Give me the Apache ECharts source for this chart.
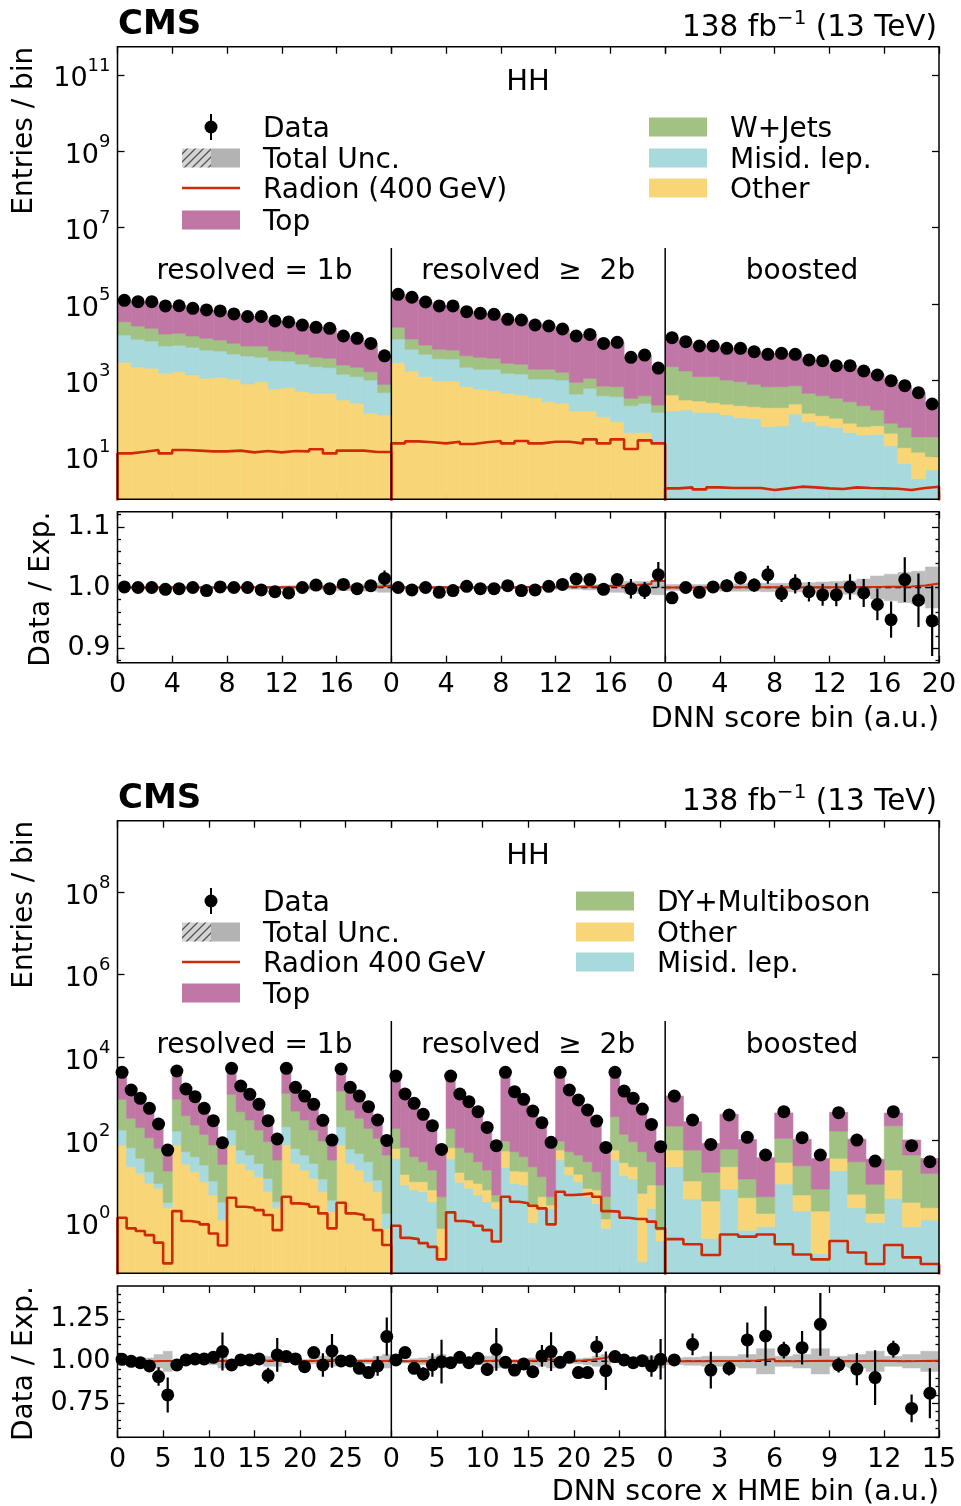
<!DOCTYPE html>
<html><head><meta charset="utf-8">
<script src="https://cdn.jsdelivr.net/npm/echarts@6/dist/echarts.min.js"></script>
<style>html,body{margin:0;padding:0;background:#fff}#c{width:961px;height:1506px}</style>
</head><body><div id="c"></div>
<script>
// ================= DATA =================
// ---- Panel A: DNN score bin (20 bins per region) ----
const dnn1bData   = [125000,115000,115000,89000,90000,77000,70000,66000,55000,47000,47000,36000,34000,28000,24500,23000,14500,12600,9300,4400];
const dnn1bOther  = [2965,2190,2065,1528,1688,1380,1130,1200,1062,802,923,593,643,505,457,457,305,250,137,124];
const dnn1bMisid  = [12435,9670,8675,6410,6570,5950,5110,4675,3840,3545,3090,2680,2570,2175,1825,1690,1130,1000,883,350];
const dnn1bWjets  = [19040,14680,12330,8430,8800,7190,6380,5535,4430,3595,3930,2710,2427,2120,1730,1627,1089,942,668,310];
const dnn1bTop    = [90600,88500,91900,72600,72900,62500,57400,54600,45700,39100,39100,30000,28400,23200,20500,19200,12000,10400,7600,3550];
const dnn1bRadion = [12.2,13.5,15.0,12.2,15.0,14.4,13.8,13.8,14.4,13.0,14.1,13.0,14.1,13.8,15.6,12.2,14.4,14.4,13.3,13.3];
const dnn1bRatio  = [1.001,1.0,1.0,0.997,0.998,1.0,0.995,1.001,1.0,1.0,0.996,0.993,0.991,1.0,1.004,0.998,1.005,0.998,1.003,1.015];
const dnn1bErr    = [0.001,0.001,0.001,0.001,0.001,0.001,0.001,0.002,0.002,0.002,0.002,0.002,0.002,0.003,0.003,0.003,0.003,0.004,0.005,0.013];
const dnn1bUnc    = [0.002,0.002,0.002,0.002,0.002,0.002,0.002,0.002,0.002,0.002,0.002,0.002,0.003,0.003,0.004,0.004,0.005,0.005,0.006,0.008];

const dnn2bData   = [179000,150000,113000,89000,89000,63000,57000,53600,39600,38100,28200,26500,22100,14500,16000,9300,9900,4000,4600,2100];
const dnn2bOther  = [2905,1758,1248,961,961,683,581,537,457,413,352,276,250,157,157,112,83,43,43,24];
const dnn2bMisid  = [9195,4732,3552,2739,2664,1507,1360,1404,1071,1053,732,808,770,282,461,284,290,174,207,121];
const dnn2bWjets  = [12380,5610,3630,2790,2615,2240,2069,1834,1262,1159,857,857,601,448,512,315,310,121,146,81];
const dnn2bTop    = [154500,137900,104600,82500,82800,58600,53000,49800,36800,35500,26300,24600,20500,13600,14900,8600,9200,3660,4200,1870];
const dnn2bRadion = [22.3,25.2,23.8,22.3,24.7,21.5,23.8,25.7,22.3,25.7,22.3,24.7,24.7,22.3,28.5,22.3,28.5,15.9,26.8,22.3];
const dnn2bRatio  = [1.0,0.996,1.0,0.992,0.995,1.002,0.998,0.998,1.003,0.995,0.996,1.002,1.005,1.014,1.013,0.997,1.013,0.998,0.995,1.021];
const dnn2bErr    = [0.001,0.001,0.001,0.001,0.002,0.002,0.002,0.002,0.002,0.002,0.002,0.003,0.003,0.003,0.003,0.004,0.007,0.016,0.014,0.021];
const dnn2bUnc    = [0.002,0.002,0.002,0.002,0.002,0.002,0.002,0.002,0.002,0.002,0.002,0.002,0.003,0.003,0.004,0.005,0.008,0.010,0.010,0.012];

const dnnBstData  = [13100,10300,7940,7940,6900,6900,5640,4800,5100,4800,3410,3275,2420,2420,1758,1380,980,724,475,240];
const dnnBstMisid = [157,167,145,142,124,107,101,61,64,131,83,64,59,43,37,39,19.4,6.7,2.7,4.5];
const dnnBstOther = [256,138,143,118,111,110,103,131,128,109,54,55,42,32,24,26,21.6,10.5,10.3,5.5];
const dnnBstWjets = [1867,1453,960,988,785,706,581,491,491,484,320,277,237,201,156,102,34,41,20,23];
const dnnBstTop   = [10820,8542,6692,6692,5880,5977,4855,4117,4417,4076,2953,2879,2082,2144,1541,1253,960,666,442,221];
const dnnBstRadion= [1.48,1.57,1.39,1.57,1.51,1.51,1.51,1.34,1.48,1.64,1.57,1.48,1.42,1.57,1.51,1.48,1.45,1.34,1.51,1.64];
const dnnBstRatio = [0.983,1.0,0.992,1.001,1.003,1.016,1.004,1.021,0.990,1.006,0.993,0.988,0.988,1.001,0.991,0.972,0.947,1.013,0.979,0.945];
const dnnBstErr   = [0.004,0.007,0.008,0.007,0.010,0.011,0.011,0.015,0.014,0.016,0.016,0.018,0.019,0.021,0.023,0.026,0.030,0.037,0.044,0.058];
const dnnBstUnc   = [0.005,0.005,0.005,0.005,0.006,0.006,0.006,0.007,0.007,0.007,0.008,0.009,0.010,0.011,0.014,0.019,0.022,0.025,0.027,0.034];

// ---- Panel B: DNN score x HME bin (30, 30, 15 bins) ----
const hme1bData   = [4340,1622,1019,584,244,57, 4670,1714,1117,584,294,86, 5420,2025,1273,729,294,106, 5420,1879,1159,729,299,100, 5224,1879,1159,640,305,98];
const hme1bOther  = [75.7,22.6,15.6,8.9,6.8,2.3, 75.7,25.8,17.1,9.8,4.7,1.16, 75.7,27.2,18.8,13.0,5.6,2.3, 75.7,27.2,18.8,11.8,5.6,1.85, 75.7,27.2,18.8,9.8,5.6,0.73];
const hme1bMisid  = [99,42.6,20.4,8.2,2.1,0.8, 89,26.4,22.4,15.0,5.5,2.0, 99,30.1,24.6,14.2,6.2,0.9, 134,35.6,24.6,15.4,5.8,1.65, 134,33.3,28.7,20.1,5.2,0.95];
const hme1bDY     = [789,269,163,97,54,14.7, 799,336,191,112,65.5,22.6, 1098,427,262,148,79.4,29.6, 1136,439,262,148,83.3,29.3, 1321,472,287,161,99,41.7];
const hme1bTop    = [3376,1288,820,487,205,53, 3811,1326,886,447,218,55, 4147,1541,968,554,230,69, 4074,1377,892,518,204,61, 3693,1347,876,495,204,42];
const hme1bRadion = [1.32,0.73,0.63,0.50,0.33,0.104, 1.91,1.10,1.02,0.91,0.55,0.28, 4.03,2.44,2.31,2.02,1.53,0.66, 4.26,2.94,2.78,2.44,1.68,0.73, 3.05,1.68,1.53,1.20,0.66,0.29];
const hme1bRatio  = [1.012,1.0,0.992,0.972,0.909,0.800, 0.978,1.008,1.014,1.014,1.024,1.058, 0.978,1.008,1.008,1.014,0.915,1.038, 1.028,1.014,0.968,1.052,0.978,1.062, 1.002,1.002,0.958,0.933,0.972,1.147];
const hme1bErr    = [0.010,0.010,0.015,0.030,0.055,0.104, 0.010,0.012,0.015,0.020,0.030,0.113, 0.010,0.012,0.015,0.020,0.047,0.100, 0.010,0.012,0.015,0.020,0.070,0.100, 0.010,0.012,0.015,0.020,0.058,0.113];
const hme1bUnc    = [0.008,0.010,0.012,0.020,0.040,0.060, 0.008,0.010,0.012,0.015,0.020,0.040, 0.008,0.010,0.012,0.015,0.030,0.030, 0.008,0.010,0.012,0.015,0.030,0.030, 0.008,0.010,0.012,0.015,0.030,0.040];

const hme2bData   = [3530,1297,771,418,222,59.4, 3530,1297,846,484,202,72.9, 4340,1477,964,502,262,87.8, 4340,1622,929,532,288,66.4, 4340,1531,1019,562,239,69];
const hme2bMisid  = [36,8.15,6.2,5.6,3.2,0.125, 34.7,9.5,6.8,4.7,3.2,2.2, 21.4,8.9,8.15,1.0,2.44,2.2, 32.8,14.2,9.8,4.26,2.94,0.73, 32.8,13.7,11.4,0.114,2.2,0.36];
const hme2bOther  = [26.8,6.6,3.6,4.2,3.0,0.6, 30.5,7.0,4.0,4.2,3.0,1.0, 32.8,8.9,9.0,1.44,1.8,0.47, 24.5,8.4,5.0,2.5,3.2,0.5, 24.5,14.6,11.2,5.0,5.95,0.3];
const hme2bDY     = [128,51.6,29.7,20.1,12.6,3.5, 126,48.7,39.4,21,12.6,1.5, 40.5,34.4,22.4,20.2,8.7,1.6, 37.4,29.6,28.6,23.1,10.9,3.0, 310,109,68.6,47.1,21.8,7.5];
const hme2bTop    = [3339,1167,765,422,203,55, 3339,1232,796,454,193,63, 4245,1506,924,512,241,78, 4245,1570,953,540,248,66, 3855,1394,928,510,216,61];
const hme2bRadion = [0.845,0.43,0.40,0.32,0.26,0.13, 1.78,1.10,1.02,0.845,0.66,0.35, 4.26,3.22,2.94,2.58,2.22,0.91, 5.62,4.67,4.84,5.12,4.26,1.91, 1.85,1.32,1.23,1.23,1.06,0.73];
const hme2bRatio  = [1.008,1.052,0.958,0.925,0.978,0.998, 0.992,1.024,0.992,1.018,0.952,1.071, 0.994,0.948,0.984,0.938,1.032,1.058, 0.994,1.024,0.933,0.933,1.087,0.944, 1.028,1.008,0.992,1.004,0.972,1.012];
const hme2bErr    = [0.010,0.012,0.015,0.040,0.070,0.130, 0.010,0.020,0.015,0.025,0.040,0.127, 0.010,0.012,0.020,0.025,0.065,0.115, 0.010,0.015,0.020,0.030,0.063,0.115, 0.010,0.015,0.020,0.030,0.064,0.120];
const hme2bUnc    = [0.008,0.010,0.015,0.020,0.030,0.040, 0.008,0.010,0.015,0.020,0.030,0.040, 0.008,0.010,0.015,0.020,0.030,0.040, 0.008,0.010,0.015,0.020,0.030,0.040, 0.008,0.010,0.015,0.020,0.030,0.040];

const hmeBstData  = [1159,305,78.5,403,116,43.4,484,114,43.4,458,100,31,484,72.9,29.9];
const hmeBstMisid = [22.6,3.73,0.42,6.5,0.66,0.80,8.6,1.91,0.18,18.1,2.3,1.02,3.88,0.80,1.16];
const hmeBstOther = [34.7,6.5,2.92,16.1,3.37,0.88,20.2,2.76,1.73,17.9,2.6,0.66,14.9,2.3,1.14];
const hmeBstDY    = [161,47.1,13.2,37.9,7.4,2.58,81,19.2,4.6,129,25,6.8,203,40.3,13.3];
const hmeBstTop   = [941,220,66,360,92,33,344,81,29,303,75,26,229,57,20];
const hmeBstRadion= [0.40,0.30,0.165,0.52,0.46,0.52,0.30,0.17,0.13,0.36,0.19,0.10,0.29,0.145,0.10];
const hmeBstRatio = [1.008,1.101,0.948,0.958,1.127,1.151,1.067,1.081,1.220,0.978,0.954,0.903,1.073,0.720,0.810];
const hmeBstErr   = [0.010,0.065,0.109,0.042,0.104,0.177,0.050,0.100,0.187,0.045,0.096,0.163,0.050,0.083,0.149];
const hmeBstUnc   = [0.020,0.024,0.030,0.030,0.040,0.075,0.030,0.040,0.075,0.030,0.040,0.060,0.030,0.040,0.060];

// tick labels / axis settings
const dnnLogTicks  = [1e1,1e3,1e5,1e7,1e9,1e11];
const hmeLogTicks  = [1e0,1e2,1e4,1e6,1e8];
const dnnRatioMajor = [0.9,1.0,1.1];
const dnnRatioMinor = [0.88,0.92,0.94,0.96,0.98,1.02,1.04,1.06,1.08,1.12];
const hmeRatioMajor = [0.75,1.0,1.25];
const hmeRatioMinor = [0.55,0.6,0.65,0.7,0.8,0.85,0.9,0.95,1.05,1.1,1.15,1.2,1.3,1.35,1.4,1.45];
const regionNames = ['resolved = 1b','resolved  \u2265  2b','boosted'];

// ================= STYLE / LAYOUT =================
const FONT = 'DejaVu Sans';
const COL = {top:'#c077a6', wjets:'#a1c283', dy:'#a1c283', misid:'#a8d9dc', other:'#f8d677', radion:'#d02a05', band:'#bdbdbd'};
const L = 117.5, R = 939, W = (R - L) / 3;
const TICK = {color:'#000', width:1.3};
const NOLINE = {show:false, onZero:false};

const option = {animation:false, backgroundColor:'#fff', grid:[], xAxis:[], yAxis:[], series:[], graphic:[]};

function supFmt(v){ const e = Math.round(Math.log10(v)); return '{b|10}{s|' + e + '}'; }
const supRich = {
  b:{fontFamily:FONT, fontSize:27, color:'#000', lineHeight:36, verticalAlign:'bottom'},
  s:{fontFamily:FONT, fontSize:18, color:'#000', lineHeight:36, verticalAlign:'top'}
};

function stepPts(vals, base){
  const p = [];
  if (base !== undefined) p.push([0, base]);
  vals.forEach((v,i)=>{ p.push([i, v]); p.push([i+1, v]); });
  if (base !== undefined) p.push([vals.length, base]);
  return p;
}

function xAxisDef(g, n, interval, pos, labels, showMax){
  return {type:'value', gridIndex:g, min:0, max:n, interval:interval, position:pos,
    axisLine:NOLINE, splitLine:{show:false},
    axisTick:{show:true, inside:true, length:7, lineStyle:TICK},
    axisLabel:{show:labels, showMaxLabel:showMax, showMinLabel:true, margin:9, color:'#000', fontFamily:FONT, fontSize:27}};
}

function addPanel(P){
  for (let r = 0; r < 3; r++){
    const reg = P.regions[r];
    const n = reg.data.length;
    const x0 = L + r * W;
    const gM = option.grid.length;
    option.grid.push({left:x0, top:P.mainTop, width:W, height:P.mainBot - P.mainTop});
    const gR = option.grid.length;
    option.grid.push({left:x0, top:P.ratTop, width:W, height:P.ratBot - P.ratTop});
    const intv = P.xInterval[r];
    const showMax = r === 2;
    const xM = option.xAxis.length;
    option.xAxis.push(xAxisDef(gM, n, intv, 'bottom', false, showMax));
    option.xAxis.push(xAxisDef(gM, n, intv, 'top', false, showMax));
    const xR = option.xAxis.length;
    option.xAxis.push(xAxisDef(gR, n, intv, 'bottom', true, showMax));
    option.xAxis.push(xAxisDef(gR, n, intv, 'top', false, showMax));
    const yM = option.yAxis.length;
    option.yAxis.push({type:'log', gridIndex:gM, min:P.yMin, max:P.yMax, position: r===2 ? 'right':'left',
      show: r !== 1, axisLine:NOLINE, splitLine:{show:false},
      axisTick:{show:true, inside:true, length:7, lineStyle:TICK, customValues:P.logTicks},
      axisLabel:{show: r===0, customValues:P.logTicks, formatter:supFmt, rich:supRich, margin:7}});
    const yR = option.yAxis.length;
    option.yAxis.push({type:'value', gridIndex:gR, min:P.rMin, max:P.rMax, position: r===2 ? 'right':'left',
      show: r !== 1, axisLine:NOLINE, splitLine:{show:false},
      axisTick:{show:true, inside:true, length:7, lineStyle:TICK, customValues:P.rMajor},
      axisLabel:{show: r===0, customValues:P.rMajor, formatter:v=>v.toFixed(P.rDec), margin:7, color:'#000', fontFamily:FONT, fontSize:27}});
    if (r !== 1){
      option.yAxis.push({type:'value', gridIndex:gR, min:P.rMin, max:P.rMax, position: r===2 ? 'right':'left',
        axisLine:NOLINE, splitLine:{show:false},
        axisTick:{show:true, inside:true, length:3.5, lineStyle:TICK, customValues:P.rMinor},
        axisLabel:{show:false}});
    }
    const total = new Array(n).fill(0);
    const base = P.yMin / 1000;
    reg.procs.forEach(([key, vals]) => {
      const items = vals.map((v,i) => { const lo = total[i] > 0 ? total[i] : base; total[i] += v; return [i, lo, total[i]]; });
      const color = COL[key];
      option.series.push({type:'custom', xAxisIndex:xM, yAxisIndex:yM, clip:true, silent:true, z:1, data:items,
        renderItem:(params, api) => {
          const a = api.coord([api.value(0), api.value(2)]);
          const b = api.coord([api.value(0) + 1, api.value(1)]);
          return {type:'rect', shape:{x:a[0], y:a[1], width:b[0]-a[0], height:b[1]-a[1]},
            style:{fill:color, stroke:color, lineWidth:0.6}};
        }});
    });
    option.series.push({type:'line', xAxisIndex:xM, yAxisIndex:yM, clip:true, silent:true, z:3, symbol:'none',
      data:stepPts(reg.radion, base), lineStyle:{color:COL.radion, width:2.6}});
    option.series.push({type:'scatter', xAxisIndex:xM, yAxisIndex:yM, silent:true, z:4, symbolSize:13,
      itemStyle:{color:'#000', opacity:1}, data:reg.data.map((v,i)=>[i+0.5, v])});
    option.series.push({type:'custom', xAxisIndex:xR, yAxisIndex:yR, clip:true, silent:true, z:1,
      data:reg.unc.map((u,i)=>[i, 1-u, 1+u]),
      renderItem:(params, api) => {
        const a = api.coord([api.value(0), api.value(2)]);
        const b = api.coord([api.value(0) + 1, api.value(1)]);
        return {type:'rect', shape:{x:a[0], y:a[1], width:b[0]-a[0], height:b[1]-a[1]},
          style:{fill:COL.band, stroke:COL.band, lineWidth:0.5}};
      }});
    option.series.push({type:'line', xAxisIndex:xR, yAxisIndex:yR, silent:true, z:2, symbol:'none',
      data:[[0,1],[n,1]], lineStyle:{color:'#000', width:1.5, type:[6,4]}});
    const sigR = reg.radion.map((v,i)=> 1 + v / total[i]);
    option.series.push({type:'line', xAxisIndex:xR, yAxisIndex:yR, clip:true, silent:true, z:3, symbol:'none',
      data:stepPts(sigR), lineStyle:{color:COL.radion, width:2}});
    option.series.push({type:'custom', xAxisIndex:xR, yAxisIndex:yR, clip:true, silent:true, z:4,
      data:reg.ratio.map((v,i)=>[i+0.5, v - reg.err[i], v + reg.err[i]]),
      renderItem:(params, api) => {
        const a = api.coord([api.value(0), api.value(1)]);
        const b = api.coord([api.value(0), api.value(2)]);
        return {type:'line', shape:{x1:a[0], y1:a[1], x2:b[0], y2:b[1]}, style:{stroke:'#000', lineWidth:2.2}};
      }});
    option.series.push({type:'scatter', xAxisIndex:xR, yAxisIndex:yR, silent:true, z:5, symbolSize:13,
      itemStyle:{color:'#000', opacity:1}, data:reg.ratio.map((v,i)=>[i+0.5, v])});
  }
  [[P.mainTop,P.mainBot,P.sepTop],[P.ratTop,P.ratBot,P.ratTop]].forEach(([t,b,s]) => {
    option.graphic.push({type:'rect', z:100, silent:true, shape:{x:L, y:t, width:R-L, height:b-t},
      style:{fill:null, stroke:'#000', lineWidth:1.5}});
    [1,2].forEach(k => option.graphic.push({type:'line', z:100, silent:true,
      shape:{x1:L+k*W, y1:s, x2:L+k*W, y2:b}, style:{stroke:'#000', lineWidth:1.5}}));
  });
}

addPanel({mainTop:46.7, mainBot:499.3, ratTop:511.7, ratBot:662.7, sepTop:248,
  yMin:Math.pow(10,-0.116), yMax:Math.pow(10,11.74), logTicks:dnnLogTicks,
  rMin:0.876, rMax:1.125, rMajor:dnnRatioMajor, rMinor:dnnRatioMinor, rDec:1,
  xInterval:[4,4,4],
  regions:[
    {data:dnn1bData, radion:dnn1bRadion, ratio:dnn1bRatio, err:dnn1bErr, unc:dnn1bUnc,
     procs:[['other',dnn1bOther],['misid',dnn1bMisid],['wjets',dnn1bWjets],['top',dnn1bTop]]},
    {data:dnn2bData, radion:dnn2bRadion, ratio:dnn2bRatio, err:dnn2bErr, unc:dnn2bUnc,
     procs:[['other',dnn2bOther],['misid',dnn2bMisid],['wjets',dnn2bWjets],['top',dnn2bTop]]},
    {data:dnnBstData, radion:dnnBstRadion, ratio:dnnBstRatio, err:dnnBstErr, unc:dnnBstUnc,
     procs:[['misid',dnnBstMisid],['other',dnnBstOther],['wjets',dnnBstWjets],['top',dnnBstTop]]}
  ]});

addPanel({mainTop:820.7, mainBot:1273.3, ratTop:1286, ratBot:1437.3, sepTop:1021,
  yMin:Math.pow(10,-1.224), yMax:Math.pow(10,9.725), logTicks:hmeLogTicks,
  rMin:0.548, rMax:1.448, rMajor:hmeRatioMajor, rMinor:hmeRatioMinor, rDec:2,
  xInterval:[5,5,3],
  regions:[
    {data:hme1bData, radion:hme1bRadion, ratio:hme1bRatio, err:hme1bErr, unc:hme1bUnc,
     procs:[['other',hme1bOther],['misid',hme1bMisid],['dy',hme1bDY],['top',hme1bTop]]},
    {data:hme2bData, radion:hme2bRadion, ratio:hme2bRatio, err:hme2bErr, unc:hme2bUnc,
     procs:[['misid',hme2bMisid],['other',hme2bOther],['dy',hme2bDY],['top',hme2bTop]]},
    {data:hmeBstData, radion:hmeBstRadion, ratio:hmeBstRatio, err:hmeBstErr, unc:hmeBstUnc,
     procs:[['misid',hmeBstMisid],['other',hmeBstOther],['dy',hmeBstDY],['top',hmeBstTop]]}
  ]});

// ================= TEXT & LEGEND =================
const hc = document.createElement('canvas'); hc.width = 8; hc.height = 8;
(function(){ const c = hc.getContext('2d'); c.fillStyle = '#d4d4d4'; c.fillRect(0,0,8,8);
  c.strokeStyle = '#555'; c.lineWidth = 1.3; c.beginPath();
  c.moveTo(0,8); c.lineTo(8,0); c.moveTo(-4,4); c.lineTo(4,-4); c.moveTo(4,12); c.lineTo(12,4); c.stroke(); })();

function txt(x, y, text, o){
  o = o || {};
  option.graphic.push({type:'text', x:x, y:y, z:110, silent:true, rotation:o.rot || 0,
    style:{text:text, fontFamily:FONT, fontSize:o.size || 28, fontWeight:o.weight || 'normal', fill:'#000',
      align:o.align || 'left', verticalAlign:'middle', textAlign:o.align || 'left', textVerticalAlign:'middle', rich:o.rich}});
}

function panelText(P){
  txt(118, P.cmsY, 'CMS', {size:34, weight:'bold'});
  txt(937, P.cmsY + 1, '{n|138 fb}{s|\u22121}{n| (13 TeV)}', {align:'right', rich:{
    n:{fontFamily:FONT, fontSize:29.5, lineHeight:35, verticalAlign:'bottom'},
    s:{fontFamily:FONT, fontSize:20, lineHeight:35, verticalAlign:'top'}}});
  txt(528, P.hhY, 'HH', {align:'center', size:29});
  regionNames.forEach((s,k)=> txt(L + (k + 0.5) * W, P.regY, s, {align:'center'}));
  txt(25, P.mainTop, 'Entries / bin', {align:'right', rot:Math.PI/2});
  txt(P.ratLabelX, P.ratTop, 'Data / Exp.', {align:'right', rot:Math.PI/2});
  txt(939, P.xTitleY, P.xTitle, {align:'right', size:28.5});
  const rows = P.rows;
  option.graphic.push({type:'line', z:110, shape:{x1:211, y1:rows[0]-13, x2:211, y2:rows[0]+13}, style:{stroke:'#000', lineWidth:2}});
  option.graphic.push({type:'circle', z:111, shape:{cx:211, cy:rows[0], r:6.5}, style:{fill:'#000'}});
  txt(263, rows[0] + 3, 'Data');
  option.graphic.push({type:'rect', z:110, shape:{x:182, y:rows[1]-9.5, width:29, height:19}, style:{fill:{image:hc, repeat:'repeat'}}});
  option.graphic.push({type:'rect', z:110, shape:{x:211, y:rows[1]-9.5, width:29, height:19}, style:{fill:'#b3b3b3'}});
  txt(263, rows[1] + 3, 'Total Unc.');
  option.graphic.push({type:'line', z:110, shape:{x1:182, y1:rows[2], x2:240, y2:rows[2]}, style:{stroke:COL.radion, lineWidth:2.5}});
  txt(263, rows[2] + 3, P.radionLabel);
  option.graphic.push({type:'rect', z:110, shape:{x:182, y:rows[3]-9.5, width:58, height:19}, style:{fill:COL.top}});
  txt(263, rows[3] + 3, 'Top');
  P.right.forEach(([key, label], k) => {
    option.graphic.push({type:'rect', z:110, shape:{x:P.boxX, y:rows[k]-9.5, width:58, height:19}, style:{fill:COL[key]}});
    txt(P.boxX + 81, rows[k] + 3, label);
  });
}

panelText({cmsY:25, hhY:82, regY:272, mainTop:46.7, ratTop:511.7, ratLabelX:42,
  xTitleY:720, xTitle:'DNN score bin (a.u.)', rows:[127,158,188,220],
  radionLabel:'Radion (400\u2009GeV)', boxX:649,
  right:[['wjets','W+Jets'],['misid','Misid. lep.'],['other','Other']]});
panelText({cmsY:799, hhY:856, regY:1046, mainTop:820.7, ratTop:1286, ratLabelX:25,
  xTitleY:1493, xTitle:'DNN score x HME bin (a.u.)', rows:[901,932,962,993],
  radionLabel:'Radion 400\u2009GeV', boxX:576,
  right:[['dy','DY+Multiboson'],['other','Other'],['misid','Misid. lep.']]});

const chart = echarts.init(document.getElementById('c'), null, {renderer:'canvas'});
chart.setOption(option);
</script></body></html>
